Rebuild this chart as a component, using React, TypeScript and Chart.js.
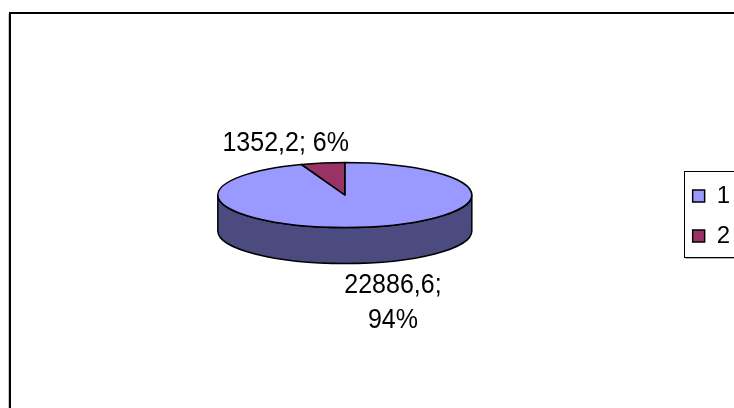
import React, { useEffect, useRef } from 'react';
import { Chart, registerables } from 'chart.js';

Chart.register(...registerables);

// ---- data ----
const categories = ['1', '2'];
const values = [22886.6, 1352.2];
const labelWrap = [true, false];

// ---- styles ----
const topColors = ['#9999FF', '#993366'];
const sideColors = ['#4B4B80', '#4D1A33'];
const FONT = '"Liberation Sans", Arial, sans-serif';
const TILT = 0.256;
const DEPTH = 36;
const LIFT = 3;
const LABEL_SIZE = 25;
const TEXT_STRETCH = 1.08;
const LEGEND_SIZE = 24;
const LEGEND_PAD = 16;
const LABEL_OFFSETS = [
  [26, 40.5],
  [-37, -19],
];
const LINE_SPACING = 35;

function fmt(v: number): string {
  return v.toFixed(1).replace('.', ',');
}

const frame = {
  id: 'frame',
  beforeDraw(chart: any) {
    const ctx = chart.ctx;
    ctx.save();
    ctx.strokeStyle = '#c8c8c8';
    ctx.lineWidth = 1;
    ctx.beginPath();
    ctx.moveTo(8.5, 14);
    ctx.lineTo(8.5, 420);
    ctx.stroke();
    ctx.strokeStyle = '#000';
    ctx.lineWidth = 2;
    ctx.strokeRect(10, 13, 1000, 1000);
    ctx.restore();
  },
  afterDraw(chart: any) {
    const lg = chart.legend;
    if (!lg) return;
    const ctx = chart.ctx;
    const n = categories.length;
    const colH = n * (LEGEND_SIZE + LEGEND_PAD);
    const y0 = (lg.top + LEGEND_PAD + lg.bottom - colH) / 2;
    const top = Math.round(y0 - 13) + 0.5;
    const bottom = Math.round(y0 + colH - 7) + 0.5;
    const left = Math.round(lg.left + LEGEND_PAD - 9) + 0.5;
    ctx.save();
    ctx.strokeStyle = '#000';
    ctx.lineWidth = 1;
    ctx.strokeRect(left, top, 200, bottom - top);
    ctx.strokeStyle = '#b0b0b0';
    ctx.beginPath();
    ctx.moveTo(left + 1, bottom + 1);
    ctx.lineTo(left + 200, bottom + 1);
    ctx.stroke();
    ctx.restore();
  },
};

const pie3d = {
  id: 'pie3d',
  beforeDatasetsDraw(chart: any) {
    const ctx = chart.ctx;
    const arcs = chart.getDatasetMeta(0).data;
    if (!arcs.length) return;
    const cx = arcs[0].x;
    const cy = arcs[0].y;
    const top = cy - DEPTH / 2 - LIFT;
    const bot = cy + DEPTH / 2 - LIFT;
    ctx.save();
    ctx.lineWidth = 1.5;
    ctx.strokeStyle = '#000';
    ctx.lineJoin = 'round';
    arcs.forEach((arc: any, i: number) => {
      const { startAngle, endAngle, outerRadius } = arc.getProps(
        ['startAngle', 'endAngle', 'outerRadius'],
        true
      );
      const R = outerRadius;
      for (let k = -1; k <= 1; k++) {
        const s = Math.max(startAngle, k * 2 * Math.PI);
        const e = Math.min(endAngle, k * 2 * Math.PI + Math.PI);
        if (e > s) {
          ctx.beginPath();
          ctx.ellipse(cx, top, R, R * TILT, 0, s, e, false);
          ctx.lineTo(cx + R * Math.cos(e), bot + R * TILT * Math.sin(e));
          ctx.ellipse(cx, bot, R, R * TILT, 0, e, s, true);
          ctx.closePath();
          ctx.fillStyle = sideColors[i];
          ctx.fill();
          ctx.stroke();
        }
      }
    });
    ctx.restore();
    ctx.save();
    ctx.translate(cx, top);
    ctx.scale(1, TILT);
    ctx.translate(-cx, -cy);
  },
  afterDatasetsDraw(chart: any) {
    const ctx = chart.ctx;
    const arcs = chart.getDatasetMeta(0).data;
    if (!arcs.length) return;
    ctx.restore();
    const cx = arcs[0].x;
    const cy = arcs[0].y;
    const top = cy - DEPTH / 2 - LIFT;
    const bot = cy + DEPTH / 2 - LIFT;
    const total = values.reduce((a, b) => a + b, 0);
    ctx.save();
    ctx.lineWidth = 1.5;
    ctx.strokeStyle = '#000';
    ctx.lineJoin = 'round';
    arcs.forEach((arc: any) => {
      const { startAngle, endAngle, outerRadius } = arc.getProps(
        ['startAngle', 'endAngle', 'outerRadius'],
        true
      );
      const R = outerRadius;
      ctx.beginPath();
      ctx.moveTo(cx, top);
      ctx.ellipse(cx, top, R, R * TILT, 0, startAngle, endAngle, false);
      ctx.closePath();
      ctx.stroke();
    });
    ctx.fillStyle = '#000';
    ctx.font = `${LABEL_SIZE}px ${FONT}`;
    ctx.textAlign = 'center';
    ctx.textBaseline = 'middle';
    arcs.forEach((arc: any, i: number) => {
      const { startAngle, endAngle, outerRadius } = arc.getProps(
        ['startAngle', 'endAngle', 'outerRadius'],
        true
      );
      const R = outerRadius;
      const mid = (startAngle + endAngle) / 2;
      const sn = Math.sin(mid);
      const px = cx + R * Math.cos(mid);
      const py = (sn > 0 ? bot : top) + R * TILT * sn;
      const lx = px + LABEL_OFFSETS[i][0];
      const ly = py + LABEL_OFFSETS[i][1];
      const pct = Math.round((values[i] / total) * 100) + '%';
      const lines = labelWrap[i]
        ? [fmt(values[i]) + ';', pct]
        : [fmt(values[i]) + '; ' + pct];
      const startY = ly - ((lines.length - 1) * LINE_SPACING) / 2;
      lines.forEach((t, j) => {
        ctx.save();
        ctx.translate(lx, startY + j * LINE_SPACING);
        ctx.scale(1, TEXT_STRETCH);
        ctx.fillText(t, 0, 0);
        ctx.restore();
      });
    });
    ctx.restore();
  },
};

export default function App() {
  const ref = useRef<HTMLCanvasElement | null>(null);
  useEffect(() => {
    if (!ref.current) return;
    const chart = new Chart(ref.current, {
      type: 'pie',
      data: {
        labels: categories,
        datasets: [
          {
            data: values,
            backgroundColor: topColors,
            borderWidth: 0,
            radius: 127,
          } as any,
        ],
      },
      options: {
        animation: false,
        responsive: true,
        maintainAspectRatio: false,
        layout: { padding: { left: 13, right: -6, top: 24, bottom: 0 } },
        plugins: {
          tooltip: { enabled: false },
          legend: {
            position: 'right',
            align: 'center',
            labels: {
              boxWidth: 12,
              boxHeight: 12,
              padding: LEGEND_PAD,
              color: '#000',
              font: { size: LEGEND_SIZE, family: FONT },
              generateLabels: (ch: any) => {
                const items = (Chart as any).overrides.pie.plugins.legend.labels.generateLabels(ch);
                return items.map((it: any) => ({ ...it, lineWidth: 1.5, strokeStyle: '#000' }));
              },
            },
          },
        },
      },
      plugins: [frame, pie3d],
    });
    return () => chart.destroy();
  }, []);
  return (
    <div style={{ position: 'fixed', left: 0, top: 0, width: 734, height: 408, overflow: 'hidden', background: '#fff' }}>
      <canvas ref={ref} />
    </div>
  );
}
